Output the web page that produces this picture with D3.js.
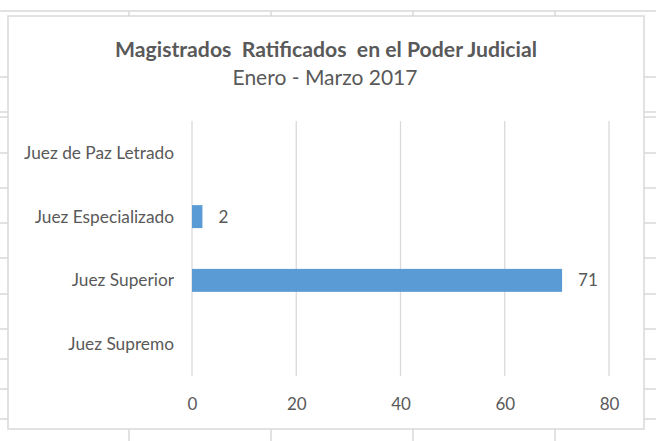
<!DOCTYPE html>
<html>
<head>
<meta charset="utf-8">
<script src="https://cdn.jsdelivr.net/npm/d3@7/dist/d3.min.js"></script>
<style>
  html, body { margin: 0; padding: 0; background: #fff; }
  svg { display: block; }
  text { font-family: Lato, "Open Sans", sans-serif; fill: #595959; white-space: pre; }
</style>
</head>
<body>
<svg id="chart" width="656" height="441"></svg>
<script>
// ---- data ----
const categories = ["Juez de Paz Letrado", "Juez Especializado", "Juez Superior", "Juez Supremo"];
const values = [null, 2, 71, null];
const xTicks = [0, 20, 40, 60, 80];
const titleText = "Magistrados  Ratificados  en el Poder Judicial";
const subtitleText = "Enero - Marzo 2017";

const W = 656, H = 441;
const svg = d3.select("#chart");
const grid = "#d9d9d9";

// ---- spreadsheet background ----
const bg = svg.append("g");
bg.append("line").attr("x1", 0).attr("x2", W).attr("y1", 11).attr("y2", 11)
  .attr("stroke", grid).attr("stroke-width", 1.5);
[77, 112, 117, 153, 188, 223, 258, 294, 329, 359, 389, 419].forEach(y => {
  bg.append("line").attr("x1", 0).attr("x2", W).attr("y1", y).attr("y2", y)
    .attr("stroke", grid).attr("stroke-width", 1.5);
});
[129, 271, 413, 555].forEach(x => {
  bg.append("line").attr("x1", x).attr("x2", x).attr("y1", 11).attr("y2", H)
    .attr("stroke", grid).attr("stroke-width", 1.5);
});

// ---- chart area ----
svg.append("rect").attr("x", 8).attr("y", 16).attr("width", 636).attr("height", 413)
  .attr("fill", "#fff").attr("stroke", grid).attr("stroke-width", 1.5);

const plot = { left: 192, right: 609, top: 121, bottom: 376 };

const x = d3.scaleLinear().domain([0, 80]).range([plot.left, plot.right]);
const y = d3.scaleBand().domain(categories).range([plot.top, plot.bottom])
  .paddingInner(0.64).paddingOuter(0.32);

// gridlines
svg.append("g").selectAll("line").data(xTicks).join("line")
  .attr("x1", d => x(d)).attr("x2", d => x(d))
  .attr("y1", plot.top).attr("y2", plot.bottom)
  .attr("stroke", grid).attr("stroke-width", 1.3);

// x axis labels
const xAxis = d3.axisBottom(x).tickValues(xTicks).tickSize(0).tickPadding(0);
const gx = svg.append("g").attr("transform", `translate(0,${plot.bottom})`).call(xAxis);
gx.select(".domain").remove();
gx.selectAll("text").attr("dy", null).attr("y", 34)
  .style("font-size", "17px").style("fill", "#595959")
  .style("font-family", "Lato, 'Open Sans', sans-serif");

// y axis labels
const yAxis = d3.axisLeft(y).tickSize(0).tickPadding(0);
const gy = svg.append("g").attr("transform", `translate(174,0)`).call(yAxis);
gy.select(".domain").remove();
gy.selectAll("text").attr("dy", "0.35em").attr("x", 0)
  .style("font-size", "17.3px").style("fill", "#595959")
  .style("font-family", "Lato, 'Open Sans', sans-serif");

// bars
const rows = categories.map((c, i) => ({ c, v: values[i] })).filter(d => d.v != null);
svg.append("g").selectAll("rect").data(rows).join("rect")
  .attr("x", x(0)).attr("y", d => y(d.c))
  .attr("width", d => x(d.v) - x(0)).attr("height", y.bandwidth())
  .attr("fill", "#5b9bd5");

// data labels
svg.append("g").selectAll("text").data(rows).join("text")
  .attr("x", d => x(d.v) + 16).attr("y", d => y(d.c) + y.bandwidth() / 2)
  .attr("dy", "0.35em").style("font-size", "17px").text(d => d.v);

// titles
svg.append("text").attr("x", 326).attr("y", 57).attr("text-anchor", "middle")
  .attr("xml:space", "preserve")
  .style("font-size", "21.2px").style("font-weight", "bold").text(titleText);
svg.append("text").attr("x", 325).attr("y", 85).attr("text-anchor", "middle")
  .style("font-size", "21px").style("font-weight", "normal").text(subtitleText);
</script>
</body>
</html>
